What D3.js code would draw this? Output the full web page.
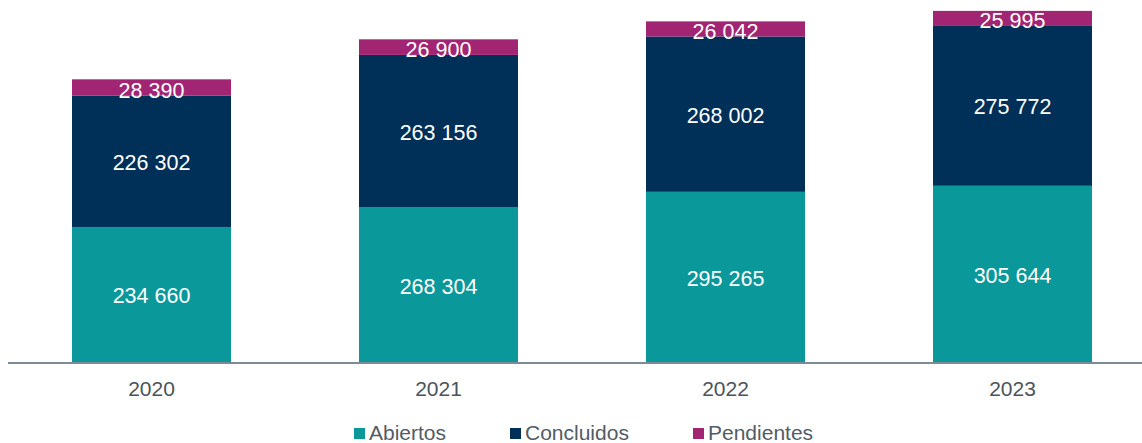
<!DOCTYPE html>
<html>
<head>
<meta charset="utf-8">
<script src="https://cdn.jsdelivr.net/npm/d3@7"></script>
<style>
  body { margin: 0; background: #fff; }
  text { font-family: "Liberation Sans", Arial, sans-serif; }
</style>
</head>
<body>
<div id="chart-area"></div>
<script>
// stacked bars - abiertos / concluidos / pendientes

const years = ["2020", "2021", "2022", "2023"]
const abiertos = [234660, 268304, 295265, 305644]
const concluidos = [226302, 263156, 268002, 275772]
const pendientes = [28390, 26900, 26042, 25995]
const seriesNames = ["Abiertos", "Concluidos", "Pendientes"]
const colors = ["#0a989a", "#003057", "#a22574"]

const W = 1142, H = 443
const AXIS_Y = 363

const svg = d3.select("#chart-area").append("svg")
    .attr("width", W)
    .attr("height", H)

const rows = years.map((y, i) => ({
    year: y, Abiertos: abiertos[i], Concluidos: concluidos[i], Pendientes: pendientes[i]
}))
const stacked = d3.stack().keys(seriesNames)(rows)

const x = d3.scaleBand()
    .domain(years)
    .range([8, 1156])
    .paddingInner(0.446)
    .paddingOuter(0.223)

const y = d3.scaleLinear()
    .domain([0, 620000])
    .range([AXIS_Y, AXIS_Y - 620000 * 0.0005797])

const fmt = v => d3.format(",")(v).replace(/,/g, " ")

const layers = svg.selectAll("g.layer")
    .data(stacked)
    .enter().append("g")
    .attr("class", "layer")
    .attr("fill", (d, i) => colors[i])

layers.selectAll("rect")
    .data(d => d)
    .enter().append("rect")
    .attr("x", d => x(d.data.year))
    .attr("y", d => y(d[1]))
    .attr("width", x.bandwidth())
    .attr("height", d => y(d[0]) - y(d[1]))

// value labels
stacked.forEach((s, si) => {
    svg.append("g").selectAll("text")
        .data(s)
        .enter().append("text")
        .attr("x", d => x(d.data.year) + x.bandwidth() / 2)
        .attr("y", d => (y(d[0]) + y(d[1])) / 2 + (si == 2 ? 3 : 1.5))
        .attr("text-anchor", "middle")
        .attr("dominant-baseline", "central")
        .attr("font-size", "21.5px")
        .attr("fill", "#fff")
        .text(d => fmt(d[1] - d[0]))
})

// x axis
const xAxis = svg.append("g")
    .attr("transform", `translate(0, ${AXIS_Y})`)
    .call(d3.axisBottom(x).tickSize(0).tickPadding(18))
xAxis.select(".domain")
    .attr("d", `M8,0H${W}`)
    .attr("stroke", "#7d8b99")
    .attr("stroke-width", 2)
xAxis.selectAll("text")
    .attr("font-size", "21px")
    .attr("fill", "#4b535c")
    .attr("font-family", "Liberation Sans, Arial, sans-serif")

// legend
const legendX = [354, 510, 693]
const legend = svg.append("g").selectAll("g")
    .data(seriesNames)
    .enter().append("g")
    .attr("transform", (d, i) => `translate(${legendX[i]}, 428)`)
legend.append("rect")
    .attr("width", 11)
    .attr("height", 11)
    .attr("fill", (d, i) => colors[i])
legend.append("text")
    .attr("x", 15)
    .attr("y", 12)
    .attr("font-size", "21px")
    .attr("fill", "#535c66")
    .text(d => d)
</script>
</body>
</html>
